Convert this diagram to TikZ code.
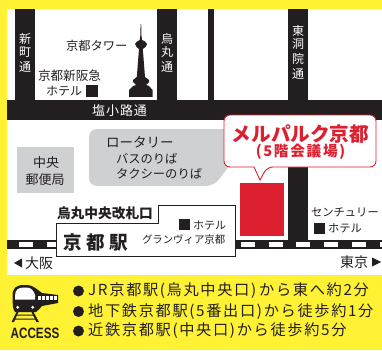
\documentclass[tikz,border=0pt]{standalone}
\usepackage{fontspec}
\setmainfont{Noto Sans CJK JP}
\newfontfamily\acc{Liberation Sans}
\definecolor{ink}{HTML}{231F20}
\definecolor{yel}{HTML}{FFF133}
\definecolor{redm}{HTML}{DC2030}
\definecolor{grayr}{HTML}{CFD0D2}
\tikzset{
 road/.style={fill=ink,draw=none},
 txt/.style={inner sep=0pt,outer sep=0pt,text=ink,anchor=west,font=\fontsize{#1}{#1}\selectfont},
 wtxt/.style={inner sep=0pt,text=white,font=\fontsize{12}{12}\selectfont},
 access/.style={inner sep=0pt,anchor=west,text=ink,font=\fontsize{15.2}{16}\selectfont\addfontfeature{LetterSpace=11}},
}
\begin{document}
\begin{tikzpicture}[x=1pt,y=-1pt]
\useasboundingbox (0,0) rectangle (382,350);
\fill[yel] (0,0) rectangle (382,350);
\fill[white] (7,9) rectangle (382,275);
% roads
\fill[road] (15,9) rectangle (35,100);
\fill[road] (157,9) rectangle (177,100);
\fill[road] (208,9) rectangle (213.5,100);
\fill[road] (288,9) rectangle (308,100);
\fill[road] (7,100) rectangle (382,120);
\fill[road] (288,120) rectangle (308,240);
% rail
\fill[road] (7,240) rectangle (382,248.5);
\foreach \x in {19,47,241,269,296,324,352,380}{\fill[white] (\x,242) rectangle (\x+14,246.5);}
% grey areas
\fill[grayr,rounded corners=8pt] (89,129) -- (232,129) -- (232,162) -- (214,186) -- (89,186) -- cycle;
\fill[grayr] (17,147) rectangle (74,193);
% station box
\draw[fill=white,draw=ink,line width=0.8pt] (56,223) -- (158,223) -- (158,205) -- (235,205) -- (235,256) -- (56,256) -- cycle;
% venue
\fill[redm] (240,183) rectangle (284,236);
\draw[fill=white,draw=redm,line width=0.9pt,rounded corners=6pt] (224,115) -- (376,115) -- (376,167) -- (267,167) [sharp corners] -- (260,180) -- (254,167) [rounded corners=6pt] -- (224,167) -- cycle;
% tower
\fill[ink] (140.6,24) -- (141.2,24) -- (141.5,36) -- (142,40) -- (145,41.5) -- (147,44) -- (145.5,47) -- (142.8,49) -- (145,77) -- (149,80) -- (149,82) -- (146,85) -- (149,86) -- (152.5,90) -- (152.5,97) -- (129,97) -- (129,90) -- (133,86) -- (136,85) -- (133,82) -- (133,80) -- (136.8,77) -- (139,49) -- (136.5,47) -- (135,44) -- (137,41.5) -- (139.8,40) -- (140.3,36) -- cycle;
% black squares
\fill[ink] (86,85) rectangle (98,97);
\fill[ink] (179,219) rectangle (190,230);
\fill[ink] (314,223) rectangle (325,234);
% vertical street names
\foreach \c/\y in {新/38.5,町/52,通/67}{\node[wtxt] at (25,\y) {\c};}
\foreach \c/\y in {烏/38.5,丸/52,通/67}{\node[wtxt] at (167,\y) {\c};}
\foreach \c/\y in {東/31,洞/44.5,院/59,通/74}{\node[wtxt] at (298,\y) {\c};}
\node[wtxt,anchor=west,font=\fontsize{13}{13}\selectfont\addfontfeature{LetterSpace=7}] (shio) at (92,111) {塩小路通};
% labels
\node[txt=12.3] (tower) at (66,45.5) {京都タワー};
\node[txt=12.6] (hankyu) at (38,76) {京都新阪急};
\node[txt=12] (hankyu2) at (46,91) {ホテル};
\node[txt=13.5] (rot) at (106,142) {ロータリー};
\node[txt=12.3] (bus) at (116,159) {バスのりば};
\node[txt=12.3] (taxi) at (116,174) {タクシーのりば};
\node[txt=13,anchor=center] (post1) at (46,163) {中央};
\node[txt=13,anchor=center] (post2) at (45,180) {郵便局};
\node[txt=13.7,font=\fontsize{13.7}{14}\selectfont\bfseries] (kaisatsu) at (57,213) {烏丸中央改札口};
\node[txt=18,font=\fontsize{18.5}{19}\selectfont\bfseries\addfontfeature{LetterSpace=25}] (kyoto) at (63,242) {京都駅};
\node[txt=11] (h1) at (193,225) {ホテル};
\node[txt=10.4] (gv) at (142,240) {グランヴィア京都};
\node[txt=11.3] (cent) at (311,212) {センチュリー};
\node[txt=11.3] (h2) at (328,228) {ホテル};
\node[txt=14] (osaka) at (25,263) {大阪};
\node[txt=14] (tokyo) at (340,262) {東京};
\fill[ink] (14,263) -- (22,258.5) -- (22,267.5) -- cycle;
\fill[ink] (381,262) -- (372,257.5) -- (372,266.5) -- cycle;
% callout text
\node[inner sep=0pt,text=redm,font=\fontsize{19.6}{20}\selectfont\bfseries] (mp) at (300.5,134) {メルパルク京都};
\node[inner sep=0pt,text=redm,font=\fontsize{14.6}{15}\selectfont\bfseries\addfontfeature{LetterSpace=12}] (fl) at (300.5,152) {(5階会議場)};
% access
\foreach \y in {291,311.5,331}{\fill[ink] (78.5,\y) circle (5.5);}
\node[access] (a1) at (88,291) {J\hspace{1.5pt}R\hspace{2pt}京都駅\hspace{1.5pt}(烏丸中央口)\hspace{3pt}から東へ約2分};
\node[access] (a2) at (88,311.5) {地下鉄京都駅(5番出口)から徒歩約1分};
\node[access] (a3) at (88,331) {近鉄京都駅(中央口)から徒歩約5分};
% train
\fill[ink] (12.5,296) .. controls (12.5,288) and (16,285) .. (24,285) -- (28,285) .. controls (33,285.5) and (38,290) .. (42,293) -- (58,295) -- (58,303) -- (42,306) .. controls (40,308) and (38,311) .. (36,312) -- (15,312) .. controls (13,310) and (12.5,305) .. (12.5,296) -- cycle;
\fill[white] (15,296) .. controls (15,290) and (18,287.5) .. (24,287.5) -- (27,287.5) .. controls (31,287.5) and (34,291) .. (35,295) -- (35,299.5) -- (15,299.5) -- cycle;
\foreach \x in {37.5,42,46,50,54}{\fill[white] (\x,295.5) rectangle (\x+3,300);}
\fill[white] (17.7,307.3) circle (1.6) (32.7,307.3) circle (1.6);
\fill[ink] (11.5,322) -- (16.5,312) -- (18.5,312) -- (14,322) -- cycle;
\fill[ink] (39,322) -- (33.5,312) -- (31.5,312) -- (36.5,322) -- cycle;
\fill[ink] (15,314.5) rectangle (35,315.5) (13.5,318.5) rectangle (36.5,319.5);
\node[inner sep=0pt,text=ink,font=\acc\bfseries\fontsize{15}{15}\selectfont,xscale=0.78] (access) at (35,333.5) {ACCESS};
\end{tikzpicture}
\end{document}
